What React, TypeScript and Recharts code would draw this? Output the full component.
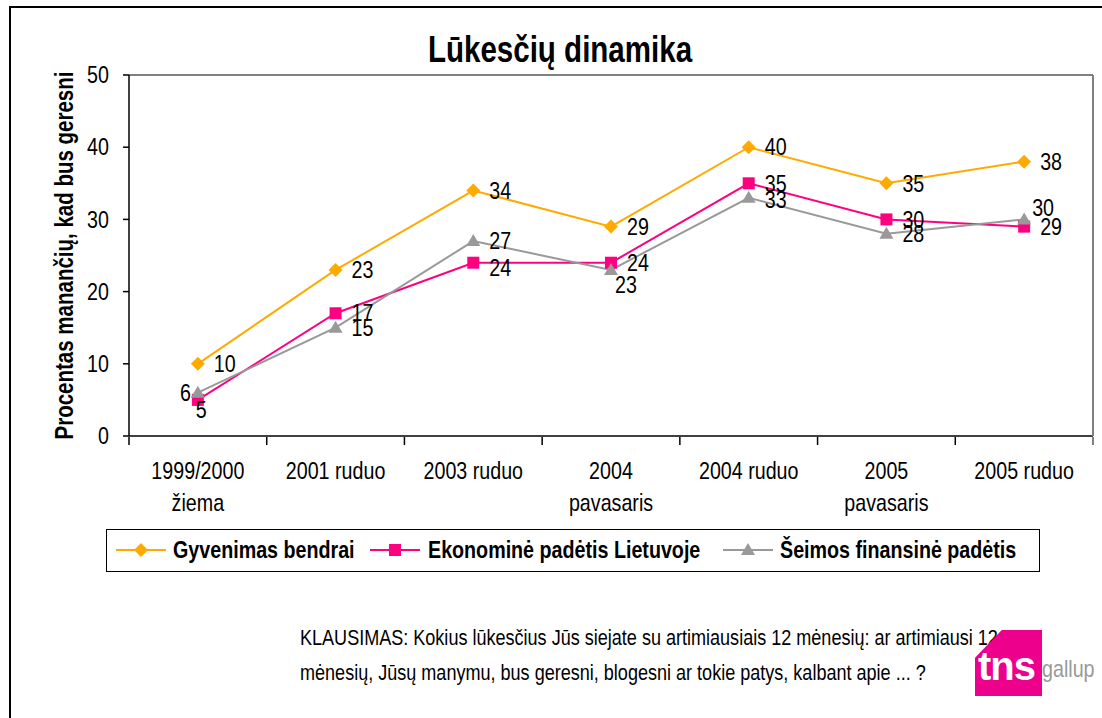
import React from "react";
import { LineChart, Line, XAxis, YAxis, ReferenceLine, LabelList } from "recharts";

const categories = [
  "1999/2000\nžiema",
  "2001 ruduo",
  "2003 ruduo",
  "2004\npavasaris",
  "2004 ruduo",
  "2005\npavasaris",
  "2005 ruduo",
];
const gyvenimasBendrai = [10, 23, 34, 29, 40, 35, 38];
const ekonomineLietuvoje = [5, 17, 24, 24, 35, 30, 29];
const seimosFinansine = [6, 15, 27, 23, 33, 28, 30];
const yTicks = [0, 10, 20, 30, 40, 50];
const seriesNames = ["Gyvenimas bendrai", "Ekonominė padėtis Lietuvoje", "Šeimos finansinė padėtis"];

const ORANGE = "#FFAA00";
const PINK = "#FF0080";
const GRAY = "#999999";
const FONT = "'Liberation Sans', Arial, sans-serif";
const NARROW = 0.82; // Liberation Sans squeezed to Arial Narrow widths
const PLOT_LEFT = 129;
const PLOT_RIGHT = 1093;
const HALF_BAND = (PLOT_RIGHT - PLOT_LEFT) / categories.length / 2;

const data = categories.map((cat, i) => ({
  cat,
  gyv: gyvenimasBendrai[i],
  eko: ekonomineLietuvoje[i],
  sei: seimosFinansine[i],
}));

// hand nudges for labels that Excel had moved around
const labelNudge: Record<string, Record<number, { dx?: number; dy?: number; anchor?: string }>> = {
  eko: { 0: { dx: -18, dy: 10 }, 2: { dy: 5 } },
  sei: { 0: { dx: -23, anchor: "end" }, 3: { dx: -12, dy: 15 }, 4: { dy: 2 }, 6: { dx: -8, dy: -12 } },
};

function NarrowText({
  x,
  y,
  anchor = "start",
  size = 24,
  bold = false,
  rotate = 0,
  children,
}: {
  x: number;
  y: number;
  anchor?: string;
  size?: number;
  bold?: boolean;
  rotate?: number;
  children: React.ReactNode;
}) {
  return (
    <g transform={`translate(${x},${y}) rotate(${rotate}) scale(${NARROW},1)`}>
      <text
        x={0}
        y={0}
        textAnchor={anchor as any}
        dominantBaseline="central"
        fontSize={size}
        fontWeight={bold ? "bold" : "normal"}
        fontFamily={FONT}
        fill="#000"
      >
        {children}
      </text>
    </g>
  );
}

const makeLabel = (key: string) => (props: any) => {
  const { x, y, value, index } = props;
  const n = labelNudge[key]?.[index] ?? {};
  return (
    <NarrowText key={`${key}${index}`} x={x + 16 + (n.dx ?? 0)} y={y + (n.dy ?? 0)} anchor={n.anchor ?? "start"}>
      {value}
    </NarrowText>
  );
};

const Diamond = (p: any) => (
  <path
    key={`d${p.index}`}
    d={`M${p.cx},${p.cy - 7}L${p.cx + 7},${p.cy}L${p.cx},${p.cy + 7}L${p.cx - 7},${p.cy}Z`}
    fill={ORANGE}
  />
);
const Square = (p: any) => (
  <rect key={`s${p.index}`} x={p.cx - 6} y={p.cy - 6} width={12} height={12} fill={PINK} />
);
const Triangle = (p: any) => (
  <path
    key={`t${p.index}`}
    d={`M${p.cx},${p.cy - 7}L${p.cx + 7},${p.cy + 5}L${p.cx - 7},${p.cy + 5}Z`}
    fill={GRAY}
  />
);

const CategoryTick = (props: any) => {
  const { x, y, payload, index } = props;
  const lines = String(payload.value).split("\n");
  const top = y - 1;
  return (
    <g>
      <line x1={x - HALF_BAND} y1={top} x2={x - HALF_BAND} y2={top + 8} stroke="#000" strokeWidth={1.5} />
      {index === categories.length - 1 && (
        <line x1={x + HALF_BAND} y1={top} x2={x + HALF_BAND} y2={top + 8} stroke="#808080" strokeWidth={2} />
      )}
      {lines.map((l, i) => (
        <NarrowText key={i} x={x} y={y + 33 + i * 32} anchor="middle">
          {l}
        </NarrowText>
      ))}
    </g>
  );
};

const YTick = (props: any) => {
  const { x, y, payload } = props;
  return (
    <NarrowText x={x} y={y} anchor="end">
      {payload.value}
    </NarrowText>
  );
};

const YLabel = (props: any) => {
  const vb = props.viewBox ?? { x: 0, y: 75, width: 129, height: 361 };
  return (
    <NarrowText x={vb.x + 64} y={vb.y + vb.height / 2} size={25} anchor="middle" bold rotate={-90}>
      Procentas manančių, kad bus geresni
    </NarrowText>
  );
};

function LegendIcon({ color, kind }: { color: string; kind: string }) {
  return (
    <svg width={52} height={20} style={{ display: "block" }}>
      <line x1={1} y1={10} x2={51} y2={10} stroke={color} strokeWidth={2} />
      {kind === "d" && <path d="M26,3L33,10L26,17L19,10Z" fill={color} />}
      {kind === "s" && <rect x={20} y={4} width={12} height={12} fill={color} />}
      {kind === "t" && <path d="M26,3L33,15L19,15Z" fill={color} />}
    </svg>
  );
}

const narrowHtml = (origin: string): React.CSSProperties => ({
  transform: `scaleX(${NARROW})`,
  transformOrigin: origin,
  whiteSpace: "nowrap",
});

export default function App() {
  const items = [
    { name: seriesNames[0], color: ORANGE, kind: "d", iconX: 114, textX: 172 },
    { name: seriesNames[1], color: PINK, kind: "s", iconX: 368, textX: 427 },
    { name: seriesNames[2], color: GRAY, kind: "t", iconX: 721, textX: 779 },
  ];
  return (
    <div
      style={{
        position: "fixed",
        left: 0,
        top: 0,
        width: 1102,
        height: 718,
        overflow: "hidden",
        background: "#fff",
        fontFamily: FONT,
      }}
    >
      <div
        style={{
          position: "absolute",
          left: 9,
          top: 6,
          width: 1200,
          height: 800,
          borderLeft: "2px solid #000",
          borderTop: "2px solid #000",
        }}
      />
      <div
        style={{
          position: "absolute",
          left: 0,
          width: 1120,
          top: 28,
          textAlign: "center",
          fontSize: 36,
          fontWeight: "bold",
          lineHeight: "44px",
          ...narrowHtml("center"),
        }}
      >
        Lūkesčių dinamika
      </div>
      <div style={{ position: "absolute", left: 0, top: 0 }}>
        <LineChart
          width={1102}
          height={718}
          data={data}
          margin={{ top: 75, right: 8, bottom: 192, left: 0 }}
        >
          <XAxis
            dataKey="cat"
            interval={0}
            height={90}
            padding={{ left: HALF_BAND, right: HALF_BAND }}
            axisLine={{ stroke: "#000", strokeWidth: 1.5 }}
            tickLine={false}
            tickSize={0}
            tick={<CategoryTick />}
          />
          <YAxis
            domain={[0, 50]}
            ticks={yTicks}
            interval={0}
            width={PLOT_LEFT}
            tickSize={6}
            tickMargin={14}
            axisLine={{ stroke: "#000", strokeWidth: 1.5 }}
            tickLine={{ stroke: "#000", strokeWidth: 1.5 }}
            tick={<YTick />}
            label={<YLabel />}
          />
          <YAxis
            yAxisId="right"
            orientation="right"
            domain={[0, 50]}
            width={1}
            tick={false}
            tickLine={false}
            axisLine={{ stroke: "#808080", strokeWidth: 2 }}
          />
          <ReferenceLine y={50} stroke="#808080" strokeWidth={2} />
          <Line
            dataKey="gyv"
            stroke={ORANGE}
            strokeWidth={2}
            dot={Diamond}
            activeDot={false}
            isAnimationActive={false}
          >
            <LabelList dataKey="gyv" content={makeLabel("gyv")} />
          </Line>
          <Line
            dataKey="eko"
            stroke={PINK}
            strokeWidth={2}
            dot={Square}
            activeDot={false}
            isAnimationActive={false}
          >
            <LabelList dataKey="eko" content={makeLabel("eko")} />
          </Line>
          <Line
            dataKey="sei"
            stroke={GRAY}
            strokeWidth={2}
            dot={Triangle}
            activeDot={false}
            isAnimationActive={false}
          >
            <LabelList dataKey="sei" content={makeLabel("sei")} />
          </Line>
        </LineChart>
      </div>
      <div
        style={{
          position: "absolute",
          left: 106,
          top: 529,
          width: 934,
          height: 43,
          border: "1.5px solid #000",
          boxSizing: "border-box",
        }}
      >
        {items.map((it) => (
          <React.Fragment key={it.name}>
            <div style={{ position: "absolute", left: it.iconX - 106, top: 10 }}>
              <LegendIcon color={it.color} kind={it.kind} />
            </div>
            <div
              style={{
                position: "absolute",
                left: it.textX - 106,
                top: 6,
                fontSize: 24,
                fontWeight: "bold",
                lineHeight: "28px",
                ...narrowHtml("left"),
              }}
            >
              {it.name}
            </div>
          </React.Fragment>
        ))}
      </div>
      <div
        style={{
          position: "absolute",
          left: 300,
          top: 620,
          fontSize: 22,
          lineHeight: "35px",
          color: "#000",
          ...narrowHtml("left"),
        }}
      >
        KLAUSIMAS: Kokius lūkesčius Jūs siejate su artimiausiais 12 mėnesių: ar artimiausi 12
        <br />
        mėnesių, Jūsų manymu, bus geresni, blogesni ar tokie patys, kalbant apie ... ?
      </div>
      <div
        style={{
          position: "absolute",
          left: 975,
          top: 630,
          width: 67,
          height: 66,
          background: "#EC008C",
          clipPath: "polygon(40% 0, 100% 0, 100% 100%, 0 100%, 0 42%)",
        }}
      />
      <div
        style={{
          position: "absolute",
          left: 978,
          top: 644,
          fontSize: 40,
          fontWeight: "bold",
          color: "#fff",
          letterSpacing: -1,
          lineHeight: "44px",
        }}
      >
        tns
      </div>
      <div
        style={{
          position: "absolute",
          left: 1042,
          top: 655,
          fontSize: 24,
          color: "#999",
          lineHeight: "28px",
          ...narrowHtml("left"),
        }}
      >
        gallup
      </div>
    </div>
  );
}
